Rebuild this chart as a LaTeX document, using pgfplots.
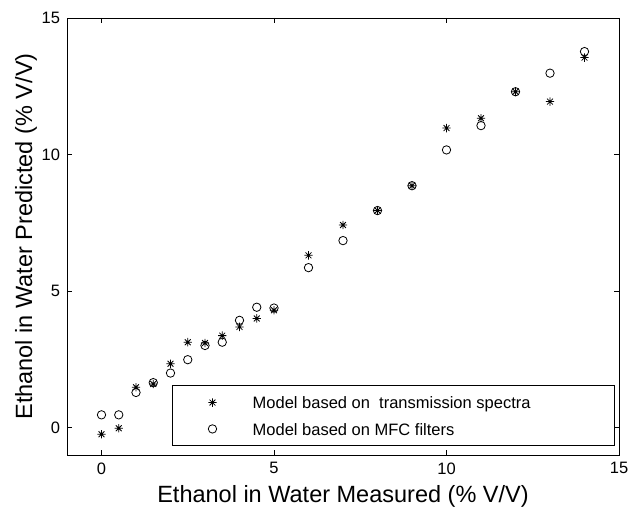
\documentclass[border=0pt]{standalone}
\usepackage{pgfplots}
\pgfplotsset{compat=1.18}
\usepackage{fontspec}
\setmainfont{Liberation Sans}
\pgfdeclareplotmark{mstar}{%
  \pgfpathmoveto{\pgfqpoint{-\pgfplotmarksize}{0pt}}%
  \pgfpathlineto{\pgfqpoint{\pgfplotmarksize}{0pt}}%
  \pgfpathmoveto{\pgfqpoint{0pt}{-\pgfplotmarksize}}%
  \pgfpathlineto{\pgfqpoint{0pt}{\pgfplotmarksize}}%
  \pgfpathmoveto{\pgfqpoint{-0.7\pgfplotmarksize}{-0.7\pgfplotmarksize}}%
  \pgfpathlineto{\pgfqpoint{0.7\pgfplotmarksize}{0.7\pgfplotmarksize}}%
  \pgfpathmoveto{\pgfqpoint{-0.7\pgfplotmarksize}{0.7\pgfplotmarksize}}%
  \pgfpathlineto{\pgfqpoint{0.7\pgfplotmarksize}{-0.7\pgfplotmarksize}}%
  \pgfusepathqstroke}
\pgfplotstableread{
x star circ
0 -0.24 0.47
0.5 -0.02 0.47
1 1.48 1.29
1.5 1.60 1.65
2 2.34 2.00
2.5 3.13 2.49
3 3.10 3.01
3.5 3.37 3.13
4 3.69 3.93
4.5 4.00 4.41
5 4.30 4.38
6 6.31 5.86
7 7.42 6.85
8 7.95 7.95
9 8.86 8.86
10 10.97 10.17
11 11.33 11.06
12 12.30 12.30
13 11.94 12.98
14 13.55 13.77
}\datatable
\begin{document}
\begin{tikzpicture}
\begin{axis}[
  scale only axis,
  width=552bp, height=437bp,
  xmin=-1, xmax=15, ymin=-1, ymax=15,
  xtick={0,5,10,15}, ytick={0,5,10,15},
  tick align=inside,
  major tick length=5bp,
  axis line style={line width=0.8bp},
  tick style={line width=0.8bp, black},
  /pgf/number format/assume math mode=true,
  ticklabel style={font=\fontsize{16.5bp}{19bp}\selectfont},
  xticklabel style={yshift=-4bp},
  yticklabel style={xshift=-3.5bp},
  xlabel={Ethanol in Water Measured (\% V/V)},
  ylabel={Ethanol in Water Predicted (\% V/V)},
  label style={font=\fontsize{23.5bp}{28bp}\selectfont},
  xlabel style={at={(axis description cs:0.5,-0.1076)}, anchor=base},
  ylabel style={at={(axis description cs:-0.0634,0.5)}, anchor=base},
  legend cell align=left,
  legend image code/.code={\draw[#1] plot coordinates {(0bp,0bp)};},
  legend style={at={(axis description cs:0.19,0.0206)}, anchor=south west,
    draw=black, line width=0.8bp, inner xsep=36bp, inner ysep=9bp, row sep=11bp,
    font=\fontsize{16.5bp}{19.8bp}\selectfont,
    nodes={inner sep=0pt},
    column sep=0bp},
]
\coordinate (bl) at (rel axis cs:0,0);
\coordinate (tr) at (rel axis cs:1,1);
\addplot[only marks, mark=mstar, mark size=4.2bp, mark options={line width=0.8bp, black}] table[x=x,y=star] {\datatable};
\addlegendentry{\makebox[362bp][l]{\hspace{36bp}\strut Model based on\ \ transmission spectra}}
\addplot[only marks, mark=o, mark size=4.2bp, mark options={line width=0.8bp, black}] table[x=x,y=circ] {\datatable};
\addlegendentry{\makebox[362bp][l]{\hspace{36bp}\strut Model based on MFC filters}}
\end{axis}
\pgfresetboundingbox
\path ([shift={(-67bp,-52bp)}]bl) rectangle ([shift={(10bp,18bp)}]tr);
\end{tikzpicture}
\end{document}
